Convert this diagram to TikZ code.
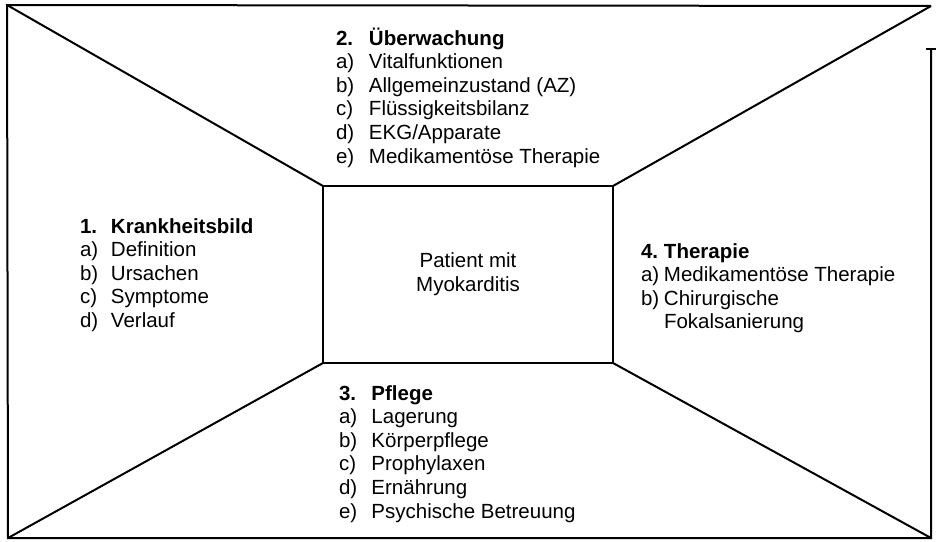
\documentclass[tikz,border=0pt]{standalone}
\usepackage{fontspec}
\setmainfont{Liberation Sans}
\usepackage{array}
\newcommand\listblock[2]{\begin{tabular}[t]{@{}p{#1}@{}l@{}}#2\end{tabular}}
\begin{document}
\begin{tikzpicture}[x=1pt,y=-1pt,
  frame/.style={line width=2pt,line join=miter,line cap=butt},
  listtext/.style={anchor=base west,inner sep=0pt,outer sep=0pt,
    font=\fontsize{20.5}{23.6}\selectfont},
  centerbox/.style={draw,line width=2pt,rectangle,inner sep=0pt,outer sep=0pt,
    minimum width=290pt,minimum height=177pt,align=center,
    font=\fontsize{20.5}{24}\selectfont}]
\useasboundingbox (0,0) rectangle (937,541);
% outer frame corners
\coordinate (otl) at (7,5);
\coordinate (otr) at (931,6);
\coordinate (obl) at (8,538);
\coordinate (obr) at (931,538);
\coordinate (rtop) at (931,49);
\coordinate (tickl) at (926,49);
\coordinate (tickr) at (936,49);
% center box
\node[centerbox] (c) at (468,274.5) {Patient mit\\Myokarditis};
% frame
\draw[frame] (otr) -- (otl) -- (obl) -- (obr) -- (rtop);
\draw[frame] (tickl) -- (tickr);
% diagonals
\draw[frame] (otl) -- (c.north west);
\draw[frame] (otr) -- (c.north east);
\draw[frame] (obl) -- (c.south west);
\draw[frame] (obr) -- (c.south east);
% text blocks
\node[listtext] (top) at (336,45) {\listblock{33pt}{%
  \textbf{2.} & \textbf{Überwachung}\\
  a) & Vitalfunktionen\\
  b) & Allgemeinzustand (AZ)\\
  c) & Flüssigkeitsbilanz\\
  d) & EKG/Apparate\\
  e) & Medikamentöse Therapie}};
\node[listtext] (left) at (80,233) {\listblock{31pt}{%
  \textbf{1.} & \textbf{Krankheitsbild}\\
  a) & Definition\\
  b) & Ursachen\\
  c) & Symptome\\
  d) & Verlauf}};
\node[listtext] (right) at (641,258) {\listblock{23pt}{%
  \textbf{4.} & \textbf{Therapie}\\
  a) & Medikamentöse Therapie\\
  b) & Chirurgische\\
     & Fokalsanierung}};
\node[listtext] (bottom) at (339,400) {\listblock{32.5pt}{%
  \textbf{3.} & \textbf{Pflege}\\
  a) & Lagerung\\
  b) & Körperpflege\\
  c) & Prophylaxen\\
  d) & Ernährung\\
  e) & Psychische Betreuung}};
\end{tikzpicture}
\end{document}
